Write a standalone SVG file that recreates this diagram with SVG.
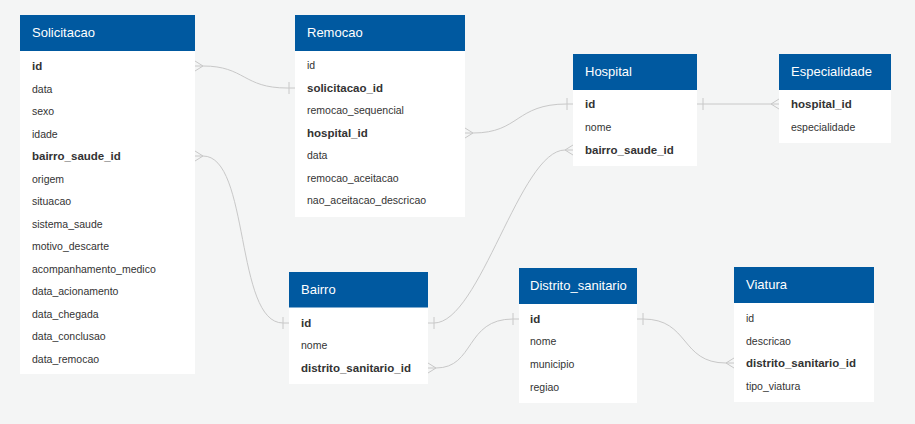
<svg xmlns="http://www.w3.org/2000/svg" width="915" height="424" viewBox="0 0 915 424">
<style>
.bg{fill:#f4f5f5}
.hd{fill:#0059a0}
.bd{fill:#ffffff}
.ht{font-family:"Liberation Sans",Arial,sans-serif;font-size:13px;fill:#ffffff}
.f{font-family:"Liberation Sans",Arial,sans-serif;font-size:10.5px;fill:#333333}
.b{font-family:"Liberation Sans",Arial,sans-serif;font-size:11.5px;font-weight:bold;fill:#333333}
.c{fill:none;stroke:#c8c8c8;stroke-width:1}
</style>
<rect class="bg" x="0" y="0" width="915" height="424"/>
<g id="connectors">
<path class="c" d="M195,66 h8 C245,66 243,88 287,88 h8"/>
<path class="c" d="M195,61 L203,66 L195,71"/>
<path class="c" d="M289,82 v12"/>
<path class="c" d="M195,156 h8 C250,156 235,323 283,323 h6"/>
<path class="c" d="M195,151 L203,156 L195,161"/>
<path class="c" d="M283,317 v12"/>
<path class="c" d="M465,133 h8 C520,133 515,104 567,104 h6"/>
<path class="c" d="M465,128 L473,133 L465,138"/>
<path class="c" d="M567,98 v12"/>
<path class="c" d="M697,104 H779"/>
<path class="c" d="M703,98 v12"/>
<path class="c" d="M779,99 L771,104 L779,109"/>
<path class="c" d="M573,150 h-8 C520,150 480,323 434,323 h-6"/>
<path class="c" d="M573,145 L565,150 L573,155"/>
<path class="c" d="M434,317 v12"/>
<path class="c" d="M428,368 h8 C475,368 465,319 513,319 h6"/>
<path class="c" d="M428,363 L436,368 L428,373"/>
<path class="c" d="M513,313 v12"/>
<path class="c" d="M637,319 h6 C690,319 680,363 726,363 h8"/>
<path class="c" d="M643,313 v12"/>
<path class="c" d="M734,358 L726,363 L734,368"/>
</g>
<g id="Solicitacao">
<rect class="bd" x="20" y="51" width="175" height="323"/>
<rect class="hd" x="20" y="15" width="175" height="36"/>
<text class="ht" x="32" y="37">Solicitacao</text>
<text class="b" x="32" y="70">id</text>
<text class="f" x="32" y="92.5">data</text>
<text class="f" x="32" y="115">sexo</text>
<text class="f" x="32" y="137.5">idade</text>
<text class="b" x="32" y="160">bairro_saude_id</text>
<text class="f" x="32" y="182.5">origem</text>
<text class="f" x="32" y="205">situacao</text>
<text class="f" x="32" y="227.5">sistema_saude</text>
<text class="f" x="32" y="250">motivo_descarte</text>
<text class="f" x="32" y="272.5">acompanhamento_medico</text>
<text class="f" x="32" y="295">data_acionamento</text>
<text class="f" x="32" y="317.5">data_chegada</text>
<text class="f" x="32" y="340">data_conclusao</text>
<text class="f" x="32" y="362.5">data_remocao</text>
</g>
<g id="Remocao">
<rect class="bd" x="295" y="51" width="170" height="166"/>
<rect class="hd" x="295" y="15" width="170" height="36"/>
<text class="ht" x="307" y="37">Remocao</text>
<text class="f" x="307" y="69">id</text>
<text class="b" x="307" y="92">solicitacao_id</text>
<text class="f" x="307" y="114">remocao_sequencial</text>
<text class="b" x="307" y="137">hospital_id</text>
<text class="f" x="307" y="159">data</text>
<text class="f" x="307" y="182">remocao_aceitacao</text>
<text class="f" x="307" y="204">nao_aceitacao_descricao</text>
</g>
<g id="Hospital">
<rect class="bd" x="573" y="90" width="124" height="76"/>
<rect class="hd" x="573" y="54" width="124" height="36"/>
<text class="ht" x="585" y="76">Hospital</text>
<text class="b" x="585" y="108">id</text>
<text class="f" x="585" y="131">nome</text>
<text class="b" x="585" y="154">bairro_saude_id</text>
</g>
<g id="Especialidade">
<rect class="bd" x="779" y="90" width="112" height="53"/>
<rect class="hd" x="779" y="54" width="112" height="36"/>
<text class="ht" x="791" y="76">Especialidade</text>
<text class="b" x="791" y="108">hospital_id</text>
<text class="f" x="791" y="131">especialidade</text>
</g>
<g id="Bairro">
<rect class="bd" x="289" y="307" width="139" height="77"/>
<rect class="hd" x="289" y="272" width="139" height="35.5"/>
<text class="ht" x="301" y="294">Bairro</text>
<text class="b" x="301" y="327">id</text>
<text class="f" x="301" y="349">nome</text>
<text class="b" x="301" y="372">distrito_sanitario_id</text>
</g>
<g id="Distrito_sanitario">
<rect class="bd" x="519" y="304" width="118" height="99"/>
<rect class="hd" x="519" y="268" width="118" height="36"/>
<text class="ht" x="530" y="290">Distrito_sanitario</text>
<text class="b" x="530" y="323">id</text>
<text class="f" x="530" y="345">nome</text>
<text class="f" x="530" y="368">municipio</text>
<text class="f" x="530" y="391">regiao</text>
</g>
<g id="Viatura">
<rect class="bd" x="734" y="303" width="140" height="99"/>
<rect class="hd" x="734" y="267" width="140" height="36"/>
<text class="ht" x="746" y="289">Viatura</text>
<text class="f" x="746" y="322">id</text>
<text class="f" x="746" y="345">descricao</text>
<text class="b" x="746" y="367">distrito_sanitario_id</text>
<text class="f" x="746" y="390">tipo_viatura</text>
</g>
</svg>
